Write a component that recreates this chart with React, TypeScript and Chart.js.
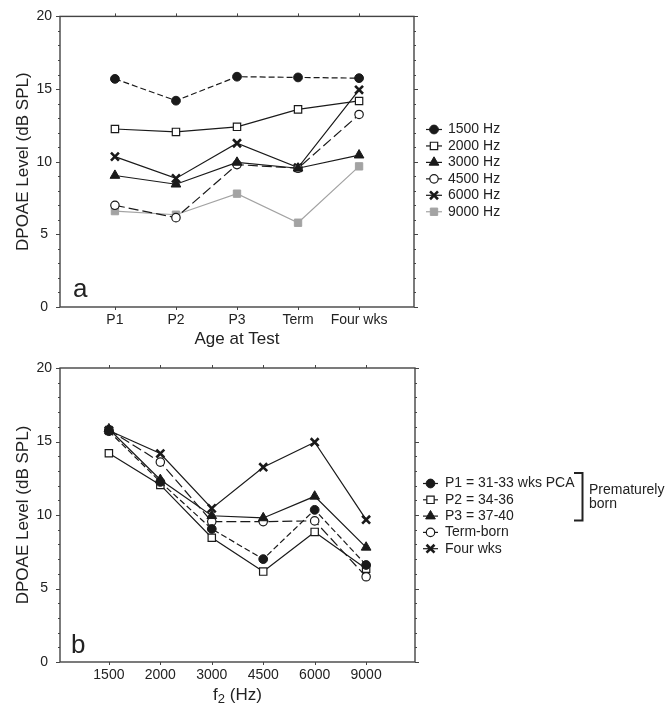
import React, { useEffect, useRef } from 'react';
import { Chart, registerables } from 'chart.js';
import { drawPoint } from 'chart.js/helpers';

Chart.register(...registerables);

const FONT = "'Liberation Sans', Arial, Helvetica, sans-serif";
Chart.defaults.font.family = FONT;
Chart.defaults.color = '#222';

// ---- data ----
const ageLabels = ['P1', 'P2', 'P3', 'Term', 'Four wks'];
const freqLabels = ['1500', '2000', '3000', '4500', '6000', '9000'];
const freqLegend = ['1500 Hz', '2000 Hz', '3000 Hz', '4500 Hz', '6000 Hz', '9000 Hz'];
const groupLegend = ['P1 = 31-33 wks PCA', 'P2 = 34-36', 'P3 = 37-40', 'Term-born', 'Four wks'];
const yTickValues = [0, 5, 10, 15, 20];

// DPOAE level (dB SPL) per group, ordered by frequency 1500..9000 Hz
const p1Levels = [15.7, 12.25, 9.05, 7.0, 10.35, 6.6];
const p2Levels = [14.2, 12.05, 8.45, 6.15, 8.85, 6.35];
const p3Levels = [15.85, 12.4, 9.95, 9.8, 11.27, 7.8];
const termLevels = [15.8, 13.6, 9.55, 9.55, 9.6, 5.8];
const fourWkLevels = [15.75, 14.18, 10.45, 13.25, 14.95, 9.68];

const groupLevels = [p1Levels, p2Levels, p3Levels, termLevels, fourWkLevels];

// ---- styles ----
const BLACK = '#1a1a1a';
const GRAY = '#a3a3a3';
type MStyle = { ps: string; r: number; fill: string; color: string; dash: number[]; pbw: number };
const circleF: MStyle = { ps: 'circle', r: 4.4, fill: BLACK, color: BLACK, dash: [6, 3], pbw: 1 };
const squareO: MStyle = { ps: 'rect', r: 5.2, fill: '#fff', color: BLACK, dash: [], pbw: 1.2 };
const triF: MStyle = { ps: 'triangle', r: 5.6, fill: BLACK, color: BLACK, dash: [], pbw: 1 };
const circleO: MStyle = { ps: 'circle', r: 4.2, fill: '#fff', color: BLACK, dash: [10, 4], pbw: 1.2 };
const crossS: MStyle = { ps: 'crossRot', r: 5.6, fill: BLACK, color: BLACK, dash: [], pbw: 2.6 };
const squareG: MStyle = { ps: 'rect', r: 5.2, fill: GRAY, color: GRAY, dash: [], pbw: 1 };

const freqStyles = [circleF, squareO, triF, circleO, crossS, squareG];
const groupStyles = [circleF, squareO, triF, circleO, crossS];

function dsFrom(label: string, data: { x: number; y: number }[], s: MStyle) {
  return {
    label,
    data,
    borderColor: s.color,
    borderWidth: 1.2,
    borderDash: s.dash,
    pointStyle: s.ps,
    pointRadius: s.r,
    pointHoverRadius: s.r,
    pointBackgroundColor: s.fill,
    pointBorderColor: s.color,
    pointBorderWidth: s.pbw,
    pointHoverBorderWidth: s.pbw,
    fill: false,
    tension: 0,
  };
}

function framePlugin(nX: number, panel: string, px: number, py: number) {
  return {
    id: 'frame' + panel,
    beforeDatasetsDraw(chart: any) {
      const { ctx, chartArea, scales } = chart;
      const { left, right, top, bottom } = chartArea;
      ctx.save();
      ctx.strokeStyle = '#444';
      ctx.lineWidth = 1.4;
      ctx.strokeRect(left, top, right - left, bottom - top);
      ctx.lineWidth = 1;
      ctx.beginPath();
      for (let v = 0; v <= 20; v++) {
        const yy = Math.round(scales.y.getPixelForValue(v)) + 0.5;
        const len = v % 5 === 0 ? 4 : 2;
        ctx.moveTo(left - len, yy);
        ctx.lineTo(left, yy);
        ctx.moveTo(right, yy);
        ctx.lineTo(right + len, yy);
      }
      for (let i = 1; i <= nX; i++) {
        const xx = Math.round(scales.x.getPixelForValue(i)) + 0.5;
        ctx.moveTo(xx, top - 3);
        ctx.lineTo(xx, top);
        ctx.moveTo(xx, bottom);
        ctx.lineTo(xx, bottom + 3);
      }
      ctx.stroke();
      ctx.fillStyle = '#222';
      ctx.font = `26px ${FONT}`;
      ctx.textBaseline = 'alphabetic';
      ctx.textAlign = 'left';
      ctx.fillText(panel, px, py);
      ctx.restore();
    },
  };
}

function legendPlugin(labels: string[], styles: MStyle[], x0: number, x1: number, tx: number, yStart: number, step: number, extra?: (ctx: CanvasRenderingContext2D) => void) {
  return {
    id: 'customLegend',
    afterDraw(chart: any) {
      const ctx: CanvasRenderingContext2D = chart.ctx;
      ctx.save();
      labels.forEach((lab, i) => {
        const s = styles[i];
        const y = yStart + i * step;
        ctx.strokeStyle = s.color;
        ctx.lineWidth = 1.2;
        ctx.setLineDash([]);
        ctx.beginPath();
        ctx.moveTo(x0, y);
        ctx.lineTo(x1, y);
        ctx.stroke();
        ctx.fillStyle = s.fill;
        ctx.lineWidth = s.pbw;
        drawPoint(ctx, { pointStyle: s.ps as any, radius: s.r, rotation: 0, borderWidth: s.pbw }, (x0 + x1) / 2, y);
        ctx.fillStyle = '#222';
        ctx.font = `14px ${FONT}`;
        ctx.textAlign = 'left';
        ctx.textBaseline = 'middle';
        ctx.fillText(lab, tx, y);
      });
      if (extra) extra(ctx);
      ctx.restore();
    },
  };
}

function baseOptions(xMin: number, xMax: number, tickLabels: string[], heightX: number, pad: any, xTitle: any) {
  return {
    responsive: false,
    animation: false as const,
    events: [],
    layout: { padding: pad },
    plugins: { legend: { display: false }, tooltip: { enabled: false } },
    scales: {
      x: {
        type: 'linear' as const,
        min: xMin,
        max: xMax,
        afterBuildTicks: (scale: any) => {
          scale.ticks = tickLabels.map((_, i) => ({ value: i + 1 }));
        },
        afterFit: (scale: any) => {
          scale.height = heightX;
        },
        grid: { display: false, drawTicks: false },
        border: { display: false },
        ticks: {
          padding: 5,
          maxRotation: 0,
          autoSkip: false,
          font: { size: 14 },
          color: '#222',
          callback: (v: any) => tickLabels[Math.round(v) - 1] ?? '',
        },
        title: xTitle,
      },
      y: {
        type: 'linear' as const,
        min: 0,
        max: 20,
        afterBuildTicks: (scale: any) => {
          scale.ticks = yTickValues.map((v) => ({ value: v }));
        },
        afterFit: (scale: any) => {
          scale.width = 60;
        },
        grid: { display: false, drawTicks: false },
        border: { display: false },
        ticks: { padding: 8, crossAlign: 'center' as const, font: { size: 14 }, color: '#222' },
        title: {
          display: true,
          text: 'DPOAE Level (dB SPL)',
          font: { size: 17 },
          color: '#222',
          padding: { top: 13, bottom: 0 },
        },
      },
    },
  };
}

function TopChart() {
  const ref = useRef<HTMLCanvasElement>(null);
  useEffect(() => {
    const datasets = freqLegend.map((lab, fi) =>
      dsFrom(lab, groupLevels.map((g, gi) => ({ x: gi + 1, y: g[fi] })), freqStyles[fi])
    );
    const chart = new Chart(ref.current!, {
      type: 'line',
      data: { datasets } as any,
      options: baseOptions(0.1, 5.9, ageLabels, 43, { left: 0, right: 257, top: 13, bottom: 0 }, {
        display: true,
        text: 'Age at Test',
        font: { size: 17 },
        color: '#222',
        padding: { top: 3, bottom: 0 },
      }) as any,
      plugins: [
        framePlugin(ageLabels.length, 'a', 73, 297),
        legendPlugin(freqLegend, freqStyles, 426, 442, 448, 129.5, 16.45),
      ],
    });
    return () => chart.destroy();
  }, []);
  return <canvas ref={ref} width={671} height={350} style={{ position: 'absolute', left: 0, top: 0 }} />;
}

function BottomChart() {
  const ref = useRef<HTMLCanvasElement>(null);
  useEffect(() => {
    const datasets = groupLegend.map((lab, gi) =>
      dsFrom(lab, groupLevels[gi].map((v, fi) => ({ x: fi + 1, y: v })), groupStyles[gi])
    );
    const titlePlugin = {
      id: 'f2title',
      afterDraw(chart: any) {
        const ctx: CanvasRenderingContext2D = chart.ctx;
        const { left, right } = chart.chartArea;
        ctx.save();
        ctx.fillStyle = '#222';
        ctx.textBaseline = 'alphabetic';
        ctx.textAlign = 'left';
        const big = `17px ${FONT}`;
        const small = `13px ${FONT}`;
        ctx.font = big;
        const wf = ctx.measureText('f').width;
        const wr = ctx.measureText(' (Hz)').width;
        ctx.font = small;
        const w2 = ctx.measureText('2').width;
        const total = wf + w2 + wr;
        let x = (left + right) / 2 - total / 2;
        const base = 700 - 350;
        ctx.font = big;
        ctx.fillText('f', x, base);
        x += wf;
        ctx.font = small;
        ctx.fillText('2', x, base + 3);
        x += w2;
        ctx.font = big;
        ctx.fillText(' (Hz)', x, base);
        ctx.restore();
      },
    };
    const bracket = (ctx: CanvasRenderingContext2D) => {
      const off = 350;
      ctx.strokeStyle = '#222';
      ctx.lineWidth = 2;
      ctx.beginPath();
      ctx.moveTo(574, 473 - off);
      ctx.lineTo(582.5, 473 - off);
      ctx.lineTo(582.5, 520.5 - off);
      ctx.lineTo(574, 520.5 - off);
      ctx.stroke();
      ctx.fillStyle = '#222';
      ctx.font = `14px ${FONT}`;
      ctx.textAlign = 'left';
      ctx.textBaseline = 'middle';
      ctx.fillText('Prematurely', 589, 490.5 - off);
      ctx.fillText('born', 589, 504 - off);
    };
    const chart = new Chart(ref.current!, {
      type: 'line',
      data: { datasets } as any,
      options: baseOptions(0.05, 6.95, freqLabels, 54, { left: 0, right: 256, top: 18, bottom: 0 }, {
        display: false,
      }) as any,
      plugins: [
        framePlugin(freqLabels.length, 'b', 71, 653 - 350),
        legendPlugin(groupLegend, groupStyles, 423, 438, 445, 483.5 - 350, 16.3, bracket),
        titlePlugin,
      ],
    });
    return () => chart.destroy();
  }, []);
  return <canvas ref={ref} width={671} height={366} style={{ position: 'absolute', left: 0, top: 350 }} />;
}

export default function App() {
  return (
    <div style={{ position: 'absolute', left: 0, top: 0, width: 671, height: 716, background: '#fff', overflow: 'hidden' }}>
      <TopChart />
      <BottomChart />
    </div>
  );
}
